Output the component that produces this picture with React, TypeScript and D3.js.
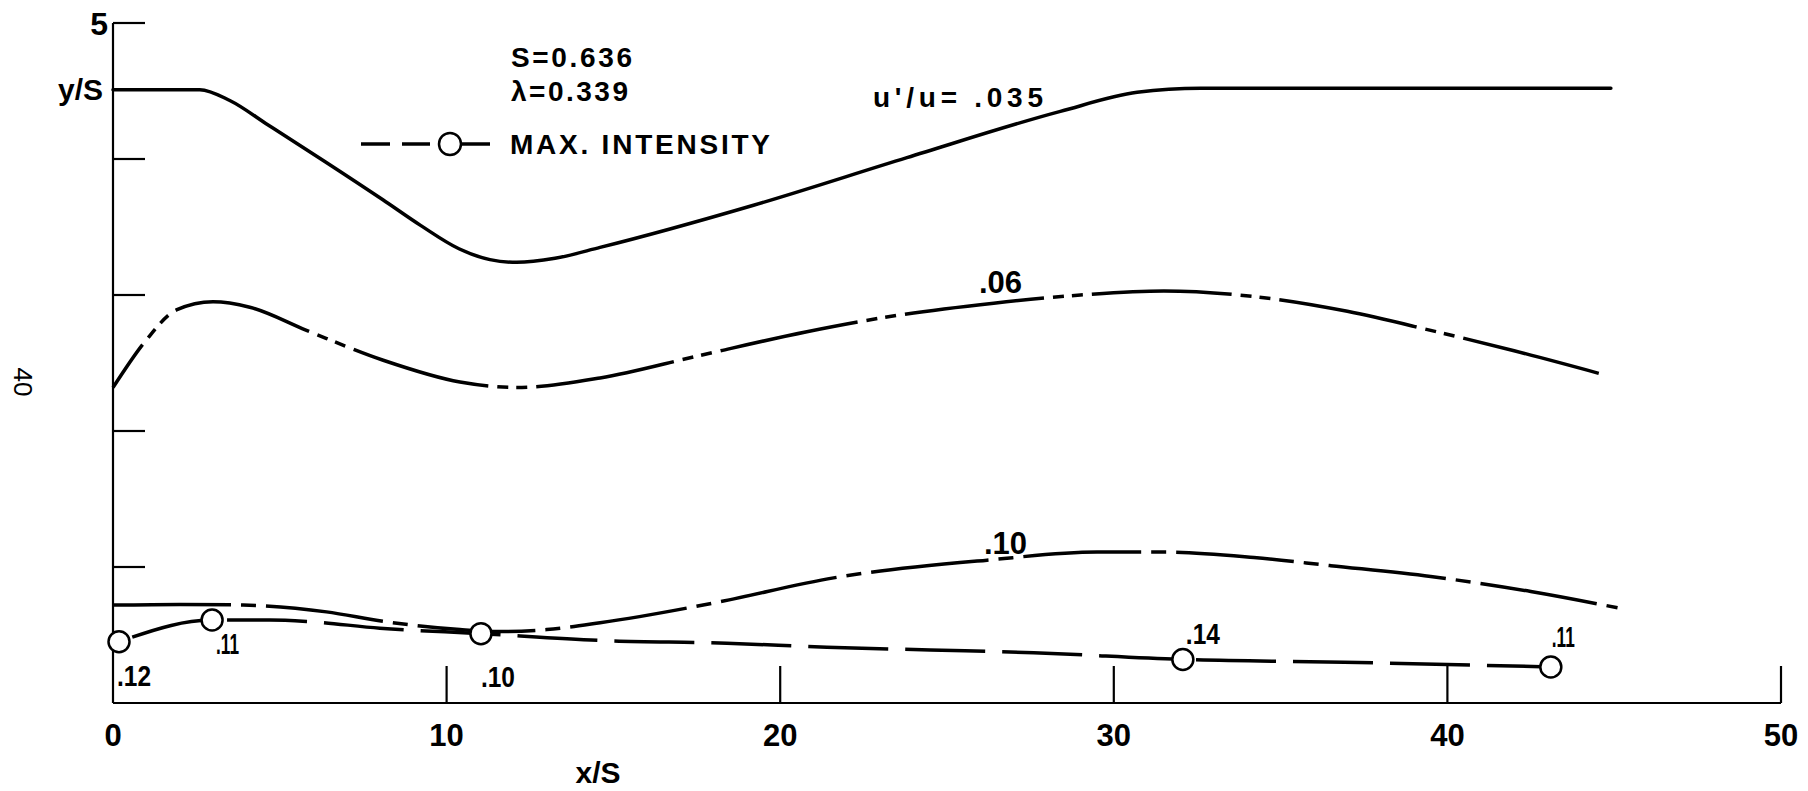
import React from 'react';
import * as d3 from 'd3';

// ---- data ----
const xTicks = [0, 10, 20, 30, 40, 50];
const yTicks = [1, 2, 3, 4, 5];

// u'/u = .035 contour
const c035X = [0, 2.6, 3.5, 4.65, 6.36, 8.09, 9.23, 10.37, 11.3, 12.1, 13.25, 14.6, 19.2, 23.8, 28.4, 30.7, 32.6, 38, 44.9];
const c035Y = [4.51, 4.51, 4.43, 4.25, 3.98, 3.7, 3.51, 3.34, 3.26, 3.24, 3.27, 3.35, 3.66, 4.01, 4.35, 4.49, 4.52, 4.52, 4.52];

// u'/u = .06 contour
const c06X = [0, 1, 1.9, 3.0, 4.1, 5.8, 8.1, 10.4, 12.1, 14.6, 17.5, 20.8, 23.5, 26.4, 29.0, 31.5, 34.5, 37.0, 39.5, 42.0, 44.6];
const c06Y = [2.32, 2.67, 2.89, 2.95, 2.91, 2.74, 2.52, 2.36, 2.32, 2.39, 2.55, 2.73, 2.85, 2.94, 3.0, 3.03, 2.98, 2.88, 2.74, 2.59, 2.42];

// u'/u = .10 contour
const c10X = [0, 2, 3.9, 6.4, 8.1, 10.4, 11.6, 13, 14.6, 18.1, 21.6, 26.2, 29.5, 31.5, 34.2, 36.5, 39.5, 42.5, 45.1];
const c10Y = [0.72, 0.725, 0.72, 0.67, 0.6, 0.54, 0.525, 0.54, 0.59, 0.74, 0.92, 1.05, 1.11, 1.11, 1.07, 1.01, 0.93, 0.82, 0.7];

// max intensity trace
const maxLineX = [0.18, 2.97, 4.7, 5.8, 8.0, 11.03, 14.6, 18.4, 21.4, 24.5, 27.6, 32.07, 36.9, 43.1];
const maxLineY = [0.45, 0.61, 0.61, 0.6, 0.55, 0.51, 0.46, 0.44, 0.41, 0.39, 0.37, 0.32, 0.3, 0.265];

// max intensity points and their values
const maxPtX = [0.18, 2.97, 11.03, 32.07, 43.1];
const maxPtY = [0.45, 0.61, 0.51, 0.32, 0.265];
const maxPtLabel = ['.12', '.11', '.10', '.14', '.11'];

const W = 1808;
const H = 791;
const FONT = '"Liberation Sans", Arial, sans-serif';

export default function App() {
  const x = d3.scaleLinear().domain([0, 50]).range([113, 1781]);
  const y = d3.scaleLinear().domain([0, 5]).range([703, 23]);

  const line = d3
    .line<[number, number]>()
    .x((d) => x(d[0]))
    .y((d) => y(d[1]))
    .curve(d3.curveMonotoneX);

  const zip = (a: number[], b: number[]) => a.map((v, i) => [v, b[i]] as [number, number]);

  const p035 = line(zip(c035X, c035Y)) || '';
  const p06 = line(zip(c06X, c06Y)) || '';
  const p10 = line(zip(c10X, c10Y)) || '';
  const pMax = line(zip(maxLineX, maxLineY)) || '';

  // label placement relative to each point (layout only)
  const labelOff: [number, number][] = [
    [-2, 44],
    [4, 34],
    [0, 53],
    [3, -15],
    [1, -20],
  ];
  const labelLen = [34, 23, 34, 34, 23];

  const curveW = 3.5;

  return (
    <svg
      width={W}
      height={H}
      style={{ position: 'absolute', left: 0, top: 0, background: '#fff' }}
      fontFamily={FONT}
      fontWeight="bold"
    >
      <rect x={0} y={0} width={W} height={H} fill="#fff" />

      {/* axes */}
      <g stroke="#000" strokeWidth={2.2} fill="none">
        <line x1={x(0)} y1={y(0)} x2={x(0)} y2={y(5)} />
        <line x1={x(0)} y1={y(0)} x2={x(50)} y2={y(0)} />
        {yTicks.map((t) => (
          <line key={'yt' + t} x1={x(0)} x2={x(0) + 32} y1={y(t)} y2={y(t)} />
        ))}
        {xTicks
          .filter((t) => t > 0)
          .map((t) => (
            <line key={'xt' + t} x1={x(t)} x2={x(t)} y1={y(0)} y2={y(0) - 37} />
          ))}
      </g>

      {/* tick labels */}
      <g fontSize={31} fill="#000" textAnchor="middle">
        {xTicks.map((t) => (
          <text key={'xl' + t} x={x(t)} y={746}>
            {t}
          </text>
        ))}
      </g>
      <text x={x(0) - 5} y={y(5) + 12} fontSize={32} textAnchor="end">
        5
      </text>
      <text x={x(0) - 10} y={100} fontSize={30} textAnchor="end">
        y/S
      </text>
      <text x={598} y={783} fontSize={30} textAnchor="middle">
        x/S
      </text>
      <text
        x={0}
        y={0}
        fontSize={26}
        fontWeight="normal"
        textAnchor="middle"
        transform="translate(14,382) rotate(90)"
      >
        40
      </text>

      {/* curves */}
      <g fill="none" stroke="#000" strokeWidth={curveW} strokeLinecap="round" strokeLinejoin="round">
        <path d={p035} />
        <path d={p06} strokeDasharray="140 9 11 8 11 9" strokeDashoffset={88} strokeLinecap="butt" />
        <path d={p10} strokeDasharray="118 10 15 10" strokeLinecap="butt" />
        <path d={pMax} strokeDasharray="80 17" strokeDashoffset={-14} strokeLinecap="butt" />
      </g>

      {/* max intensity points */}
      <g fill="#fff" stroke="#000" strokeWidth={2.5}>
        {maxPtX.map((v, i) => (
          <circle key={'mp' + i} cx={x(v)} cy={y(maxPtY[i])} r={10.5} />
        ))}
      </g>
      <g fontSize={30} fill="#000">
        {maxPtX.map((v, i) => (
          <text
            key={'ml' + i}
            x={x(v) + labelOff[i][0]}
            y={y(maxPtY[i]) + labelOff[i][1]}
            textLength={labelLen[i]}
            lengthAdjust="spacingAndGlyphs"
          >
            {maxPtLabel[i]}
          </text>
        ))}
      </g>

      {/* contour labels */}
      <text x={873} y={107} fontSize={28} textLength={170} lengthAdjust="spacing">
        u'/u= .035
      </text>
      <text x={979} y={293} fontSize={31}>
        .06
      </text>
      <text x={984} y={554} fontSize={31}>
        .10
      </text>

      {/* legend / parameters */}
      <text x={511} y={67} fontSize={28} textLength={121} lengthAdjust="spacing">
        S=0.636
      </text>
      <text x={511} y={101} fontSize={28} textLength={117} lengthAdjust="spacing">
        λ=0.339
      </text>
      <g stroke="#000" strokeWidth={3.5}>
        <line x1={361} x2={390} y1={144} y2={144} />
        <line x1={402} x2={430} y1={144} y2={144} />
        <line x1={461} x2={490} y1={144} y2={144} />
      </g>
      <circle cx={450} cy={144} r={11} fill="#fff" stroke="#000" strokeWidth={2.5} />
      <text x={510} y={154} fontSize={28} textLength={260} lengthAdjust="spacing">
        MAX. INTENSITY
      </text>
    </svg>
  );
}
